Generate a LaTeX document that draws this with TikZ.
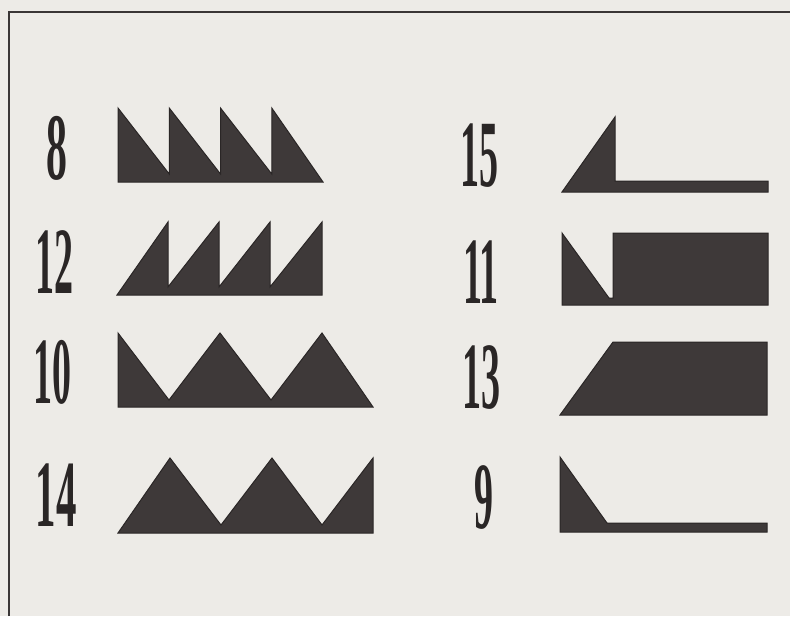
\documentclass[tikz,border=0pt]{standalone}
\usepackage{fontspec}
\setmainfont{Liberation Serif}
\definecolor{bg}{HTML}{EDEBE7}
\definecolor{ink}{HTML}{3E3939}
\definecolor{edge}{HTML}{2A2626}
\definecolor{frame}{HTML}{3A3636}
\begin{document}
\begin{tikzpicture}[x=1pt,y=-1pt,
  wave/.style={fill=ink,draw=edge,line width=1pt,line join=miter},
  lbl/.style={inner sep=0pt,anchor=center,text=edge,font=\fontsize{95}{95}\selectfont\bfseries},
  framelines/.style={draw=frame,line width=2pt}]
\fill[bg] (0,0) rectangle (790,616);
\useasboundingbox (0,0) rectangle (790,616);
% frame
\draw[framelines] (9,616) -- (9,12) -- (790,12);
% labels
\node[lbl] (l8)  at (57,148)  {\scalebox{0.44}[1]{8}};
\node[lbl] (l12) at (54,262)  {\scalebox{0.40}[1]{12}};
\node[lbl] (l10) at (52,372)  {\scalebox{0.40}[1]{10}};
\node[lbl] (l14) at (56,495)  {\scalebox{0.43}[1]{14}};
\node[lbl] (l15) at (479,156) {\scalebox{0.40}[1]{15}};
\node[lbl] (l11) at (481,272) {\scalebox{0.40}[1]{11}};
\node[lbl] (l13) at (481,378) {\scalebox{0.40}[1]{13}};
\node[lbl] (l9)  at (484,498) {\scalebox{0.40}[1]{9}};
% envelope 8
\path[wave] (118,182) -- (118,108) -- (169.25,174) -- (169.25,108) -- (220.5,174)
  -- (220.5,108) -- (271.75,174) -- (271.75,108) -- (323,182) -- cycle;
% envelope 12
\path[wave] (117,295) -- (168,222) -- (168,287) -- (219,222) -- (219,287)
  -- (270,222) -- (270,287) -- (322,222) -- (322,295) -- cycle;
% envelope 10
\path[wave] (118,407) -- (118,333) -- (169,400) -- (220,333) -- (271,400)
  -- (322,333) -- (373,407) -- cycle;
% envelope 14
\path[wave] (118,533) -- (170,458) -- (221,525) -- (272,458) -- (322,525)
  -- (373,458) -- (373,533) -- cycle;
% envelope 15
\path[wave] (562,192) -- (615,117) -- (615,181) -- (768,181) -- (768,192) -- cycle;
% envelope 11
\path[wave] (562,305) -- (562,233) -- (609,298) -- (613,298) -- (613,233)
  -- (768,233) -- (768,305) -- cycle;
% envelope 13
\path[wave] (560,415) -- (613,342) -- (767,342) -- (767,415) -- cycle;
% envelope 9
\path[wave] (560,532) -- (560,457) -- (607,523) -- (767,523) -- (767,532) -- cycle;
\end{tikzpicture}
\end{document}
